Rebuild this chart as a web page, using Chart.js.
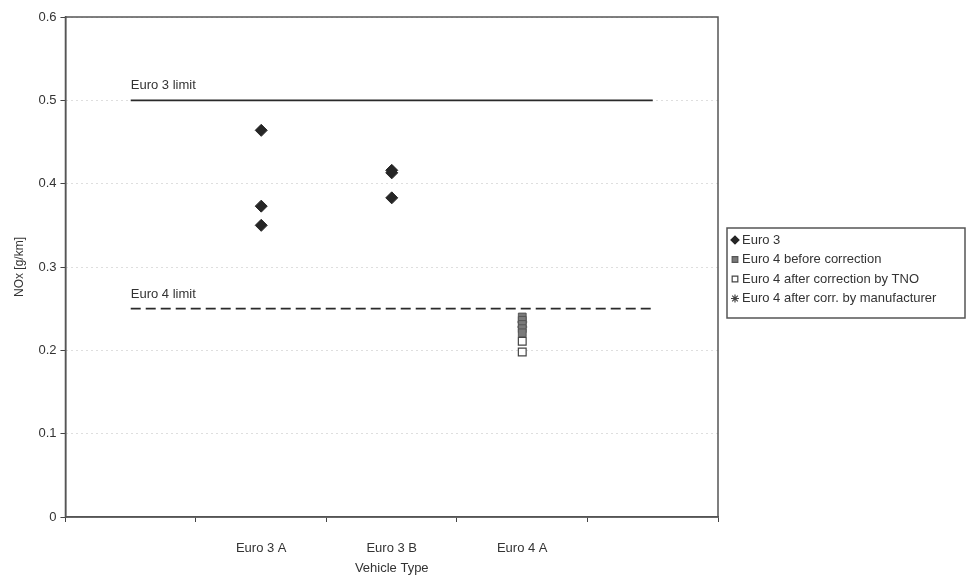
<!DOCTYPE html>
<html>
<head>
<meta charset="utf-8">
<script src="https://cdn.jsdelivr.net/npm/chart.js@4/dist/chart.umd.min.js"></script>
<style>
  html, body { margin: 0; padding: 0; background: #fff; }
  #wrap { width: 968px; height: 577px; }
</style>
</head>
<body>
<div id="wrap"><canvas id="chart" width="968" height="577"></canvas></div>
<script>
// categories on the x axis (first and last are empty slots)
const categories = ['', 'Euro 3 A', 'Euro 3 B', 'Euro 4 A', ' '];

// measured values, NOx in g/km
const euro3 = [
    { x: 'Euro 3 A', y: 0.464 },
    { x: 'Euro 3 A', y: 0.373 },
    { x: 'Euro 3 A', y: 0.350 },
    { x: 'Euro 3 B', y: 0.413 },
    { x: 'Euro 3 B', y: 0.416 },
    { x: 'Euro 3 B', y: 0.383 }
];
const euro4Before = [
    { x: 'Euro 4 A', y: 0.240 },
    { x: 'Euro 4 A', y: 0.236 },
    { x: 'Euro 4 A', y: 0.231 },
    { x: 'Euro 4 A', y: 0.226 },
    { x: 'Euro 4 A', y: 0.221 }
];
const euro4TNO = [
    { x: 'Euro 4 A', y: 0.211 },
    { x: 'Euro 4 A', y: 0.198 }
];
const euro4Manufacturer = [
    { x: 'Euro 4 A', y: 0.234 },
    { x: 'Euro 4 A', y: 0.228 }
];

// emission limits, drawn from the first to the last (empty) slot
const limitNames = ['Euro 3 limit', 'Euro 4 limit'];
const limitValues = [0.5, 0.25];
const limitFrom = '';
const limitTo = ' ';

const yTicks = [0, 0.1, 0.2, 0.3, 0.4, 0.5, 0.6];

const FONT = '"Liberation Sans", Arial, sans-serif';
const INK = '#333';

// frame around the plot + limit captions
const framePlugin = {
    id: 'frame',
    afterDraw(chart) {
        const { ctx, chartArea: a, scales } = chart;
        ctx.save();
        ctx.strokeStyle = '#555';
        ctx.lineWidth = 1.5;
        ctx.strokeRect(a.left, a.top, a.right - a.left, a.bottom - a.top);

        ctx.fillStyle = INK;
        ctx.font = '13px ' + FONT;
        ctx.textBaseline = 'bottom';
        limitNames.forEach((name, i) => {
            const x = scales.x.getPixelForValue(0);
            const y = scales.y.getPixelForValue(limitValues[i]);
            ctx.fillText(name, x, y - 8);
        });
        ctx.restore();
    }
};

// boxed legend to the right of the plot
const boxLegend = {
    id: 'boxLegend',
    afterDraw(chart) {
        const { ctx } = chart;
        const items = chart.data.datasets.filter(d => d.inLegend);
        const left = 727, top = 228, w = 238, rowH = 19.5;
        ctx.save();
        ctx.strokeStyle = '#555';
        ctx.lineWidth = 1.5;
        ctx.strokeRect(left, top, w, rowH * items.length + 12);
        ctx.font = '13px ' + FONT;
        ctx.textBaseline = 'middle';
        items.forEach((d, i) => {
            const cy = top + 12 + i * rowH;
            ctx.fillStyle = d.pointBackgroundColor;
            ctx.strokeStyle = d.pointBorderColor;
            ctx.lineWidth = 1.2;
            Chart.helpers.drawPoint(ctx, {
                pointStyle: d.pointStyle,
                radius: 4,
                borderWidth: 1.2
            }, left + 8, cy);
            ctx.fillStyle = INK;
            ctx.fillText(d.label, left + 15, cy);
        });
        ctx.restore();
    }
};

const limitSets = limitNames.map((name, i) => ({
    type: 'line',
    label: name,
    data: [{ x: limitFrom, y: limitValues[i] }, { x: limitTo, y: limitValues[i] }],
    borderColor: '#2a2a2a',
    borderWidth: i === 0 ? 1.8 : 1.6,
    borderDash: i === 0 ? [] : [10, 5],
    pointRadius: 0,
    fill: false
}));

new Chart(document.getElementById('chart'), {
    type: 'line',
    data: {
        labels: categories,
        datasets: [
            ...limitSets,
            {
                label: 'Euro 3', data: euro3, inLegend: true, showLine: false,
                pointStyle: 'rectRot', pointRadius: 6,
                pointBackgroundColor: '#262626', pointBorderColor: '#262626', pointBorderWidth: 1
            },
            {
                label: 'Euro 4 before correction', data: euro4Before, inLegend: true, showLine: false,
                pointStyle: 'rect', pointRadius: 5.5,
                pointBackgroundColor: '#7a7a7a', pointBorderColor: '#555', pointBorderWidth: 1
            },
            {
                label: 'Euro 4 after correction by TNO', data: euro4TNO, inLegend: true, showLine: false,
                pointStyle: 'rect', pointRadius: 5.5,
                pointBackgroundColor: '#ffffff', pointBorderColor: '#444', pointBorderWidth: 1.2
            },
            {
                label: 'Euro 4 after corr. by manufacturer', data: euro4Manufacturer, inLegend: true, showLine: false,
                pointStyle: 'star', pointRadius: 5,
                pointBackgroundColor: '#444', pointBorderColor: '#444', pointBorderWidth: 1.2
            }
        ]
    },
    options: {
        responsive: false,
        animation: false,
        layout: { padding: { left: 12, right: 250, top: 17, bottom: 0 } },
        plugins: { legend: { display: false }, tooltip: { enabled: false } },
        scales: {
            x: {
                type: 'category',
                offset: true,
                afterFit(scale) { scale.height = 60; },
                grid: { drawOnChartArea: false, drawTicks: true, tickLength: 5, offset: true, color: '#444' },
                border: { color: '#555', width: 1.5 },
                ticks: { color: INK, font: { family: FONT, size: 13 }, padding: 19, maxRotation: 0 },
                title: { display: true, text: 'Vehicle Type', color: INK, font: { family: FONT, size: 13 }, padding: { top: 2, bottom: 1 } }
            },
            y: {
                min: 0, max: 0.6,
                afterBuildTicks(scale) { scale.ticks = yTicks.map(v => ({ value: v })); },
                grid: { color: '#bdbdbd', lineWidth: 1, tickColor: '#444', tickLength: 5 },
                border: { color: '#555', width: 1.5, dash: [1, 4] },
                ticks: {
                    color: INK, font: { family: FONT, size: 13 }, padding: 4,
                    callback: v => v === 0 ? '0' : v.toFixed(1)
                },
                title: { display: true, text: 'NOx [g/km]', color: INK, font: { family: FONT, size: 12 }, padding: { top: 0, bottom: 8 } }
            }
        }
    },
    plugins: [framePlugin, boxLegend]
});
</script>
</body>
</html>
